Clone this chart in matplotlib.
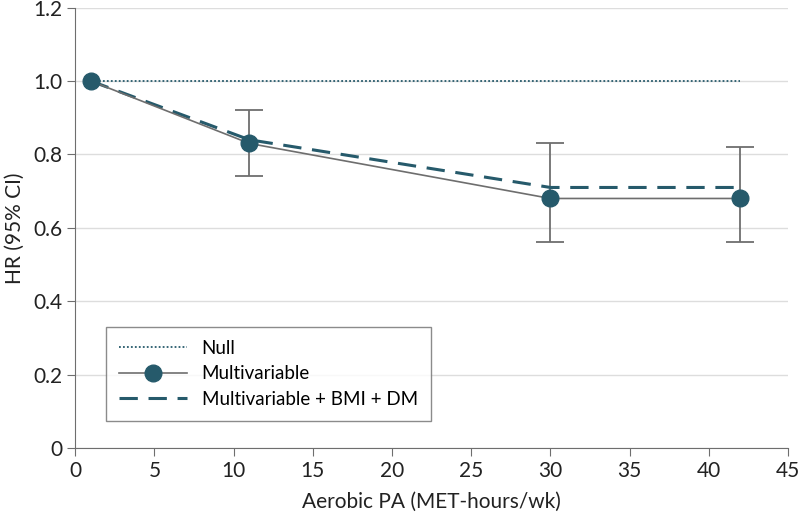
import matplotlib
matplotlib.use("Agg")
import matplotlib.pyplot as plt

x = [1, 11, 30, 42]
multi = [1.0, 0.83, 0.68, 0.68]
multi_lo = [1.0, 0.74, 0.56, 0.56]
multi_hi = [1.0, 0.92, 0.83, 0.82]
multi_bmi = [1.0, 0.84, 0.71, 0.71]
null_x = [1, 42]
null_y = [1.0, 1.0]

teal = "#265a6b"
gray = "#6e6e6e"

plt.rcParams['font.family'] = ['Lato', 'DejaVu Sans']
fig = plt.figure(figsize=(8, 5.16), dpi=100)
ax = fig.add_axes([0.094, 0.132, 0.891, 0.853])

ax.plot(null_x, null_y, linestyle=(0, (1, 1.2)), color=teal, lw=1.3, label="Null")
yerr = [[m - l for m, l in zip(multi, multi_lo)], [h - m for m, h in zip(multi, multi_hi)]]
ax.errorbar(x[1:], multi[1:], yerr=[yerr[0][1:], yerr[1][1:]], fmt='none', ecolor=gray, elinewidth=1.3, capsize=10, capthick=1.3)
ax.plot(x, multi, color=gray, lw=1.2, marker='o', markersize=12, markerfacecolor=teal, markeredgecolor=teal, label="Multivariable", zorder=4)
ax.plot(x, multi_bmi, color=teal, lw=2.2, linestyle=(0, (6, 3.5)), label="Multivariable + BMI + DM", zorder=3)

ax.set_xlim(0, 45)
ax.set_ylim(0, 1.2)
ax.set_xticks(range(0, 46, 5))
ax.set_yticks([0, 0.2, 0.4, 0.6, 0.8, 1.0, 1.2])
ax.set_yticklabels(["0", "0.2", "0.4", "0.6", "0.8", "1.0", "1.2"])
ax.yaxis.grid(True, color="#dddddd", lw=1)
ax.set_axisbelow(True)
for s in ["top", "right"]:
    ax.spines[s].set_visible(False)
for s in ["left", "bottom"]:
    ax.spines[s].set_color(gray)
ax.tick_params(colors=gray, labelcolor="#222222", labelsize=15, length=6)
ax.set_xlabel("Aerobic PA (MET-hours/wk)", fontsize=15, color="#222222", labelpad=8)
ax.set_ylabel("HR (95% CI)", fontsize=15, color="#222222", labelpad=6)

leg = ax.legend(loc="lower left", bbox_to_anchor=(0.03, 0.04), fontsize=13.5, frameon=True, fancybox=False,
                edgecolor=gray, handlelength=3.6, borderpad=0.7, labelspacing=0.45)
leg.get_frame().set_linewidth(1.0)

fig.savefig("out.png", dpi=100)
